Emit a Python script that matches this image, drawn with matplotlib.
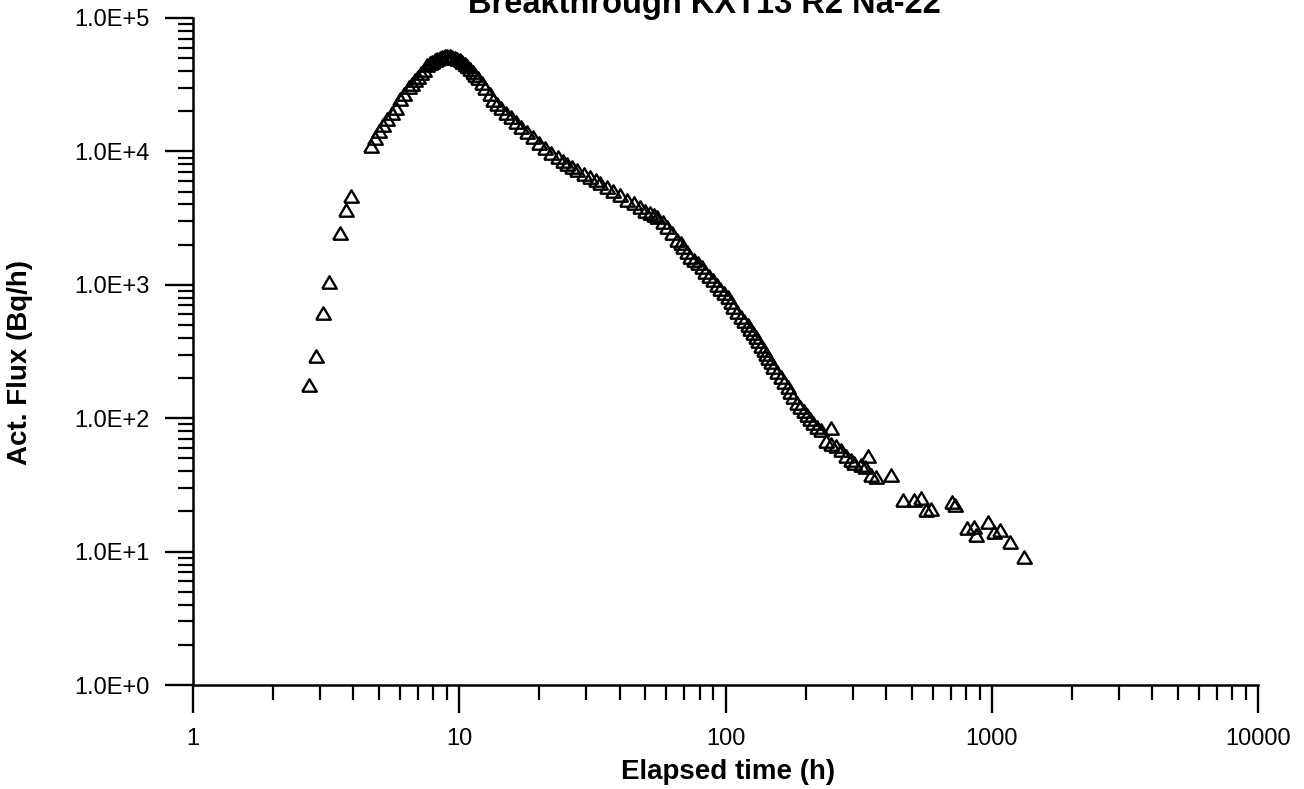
import numpy as np
import matplotlib
matplotlib.use('Agg')
import matplotlib.pyplot as plt
from matplotlib.ticker import LogLocator, FuncFormatter, NullFormatter

# Na-22 breakthrough, values
time_h = [2.73, 2.90, 3.08, 3.25, 3.57, 3.76, 3.93,
          4.67, 4.83, 5.00, 5.18, 5.36, 5.60, 5.80, 6.00, 6.21, 6.49, 6.66,
          6.84, 7.01, 7.20, 7.39, 7.59, 7.78, 7.91, 8.12, 8.26, 8.48, 8.63,
          8.86, 9.01, 9.25, 9.41, 9.66, 9.82, 10.1, 10.26, 10.5, 10.7, 11.0,
          11.3, 11.5, 11.8, 12.2, 12.5, 13.0, 13.4, 13.9, 14.3, 15.0, 15.6,
          16.3, 17.0, 18.0, 19.0, 20.0, 21.0, 22.2, 23.4, 24.5, 25.5, 26.6,
          27.8, 29.4, 31.1, 32.5, 33.9, 35.8, 37.9, 40.3, 42.8, 45.3, 47.9,
          50.0, 52.2, 54.0, 55.5, 58.0, 60.5, 63.2, 66.0, 67.8, 69.5, 71.6,
          73.8, 76.0, 78.5, 81.3, 84.1, 87.0, 90.1, 92.8, 95.7, 98.8, 102,
          104.5, 107, 110.5, 114, 117.5, 121, 124, 127, 130, 133, 136, 139,
          142, 145, 148, 151, 156, 161, 166, 171, 175, 180, 185, 191, 197,
          203, 208, 214, 221, 228, 238, 248, 248, 260, 271, 283, 295, 305,
          322, 335, 342, 351, 366, 417, 463, 509, 541, 565, 590, 708, 726,
          805, 855, 871, 966, 1018, 1072, 1169, 1318]
flux = [177, 293, 615, 1050, 2440, 3640, 4630,
        10970, 12600, 14200, 15800, 17500, 19400, 21100, 24700, 26900, 30400,
        32000, 34300, 36100, 38700, 40800, 44500, 46000, 46800, 48400, 49300,
        50100, 51000, 51900, 51900, 51900, 51000, 50100, 49300, 48400, 46800,
        45200, 43700, 41500, 39400, 37400, 35500, 32500, 29900, 27000, 24300,
        22800, 21100, 19400, 18100, 16500, 15200, 13900, 12800, 11600, 10600,
        9800, 9080, 8500, 8050, 7600, 7260, 6800, 6430, 6100, 5800, 5400,
        5050, 4700, 4320, 4080, 3830, 3600, 3450, 3350, 3220, 2950, 2710,
        2430, 2170, 2050, 1920, 1760, 1610, 1540, 1460, 1350, 1250, 1160,
        1090, 1000, 930, 870, 811, 740, 683, 625, 574, 535, 500, 465, 436,
        405, 379, 350, 325, 302, 283, 262, 242, 222, 204, 186, 171, 157, 144,
        131, 121, 113, 106, 98, 92, 86, 81.6, 68, 64, 84.5, 62, 57.8, 52,
        48.7, 46, 44.6, 43, 52.1, 37.5, 36.3, 37.5, 24.4, 24.4, 25.2, 20.5,
        20.9, 23.5, 22.4, 15.0, 15.3, 13.3, 16.7, 14.0, 14.5, 11.8, 9.1]

plt.rcParams['font.family'] = ['Liberation Sans', 'DejaVu Sans']

fig = plt.figure(figsize=(13.04, 7.89), dpi=100)
ax = fig.add_axes([193/1304, 1 - 685/789, 1065/1304, 667/789])

# open triangle, a bit wider than tall like the original
tri = [(-1, -0.85), (1, -0.85), (0, 0.85), (-1, -0.85)]
ax.plot(time_h, flux, linestyle='none', marker=tri, ms=10.5,
        mfc='none', mec='black', mew=1.7)

ax.set_xscale('log')
ax.set_yscale('log')
ax.set_xlim(1, 10000)
ax.set_ylim(1, 1e5)

for s in ['top', 'right']:
    ax.spines[s].set_visible(False)
for s in ['left', 'bottom']:
    ax.spines[s].set_linewidth(1.8)

for axis in [ax.xaxis, ax.yaxis]:
    axis.set_major_locator(LogLocator(base=10, numticks=12))
    axis.set_minor_locator(LogLocator(base=10, subs=np.arange(2, 10), numticks=40))
    axis.set_minor_formatter(NullFormatter())

ax.xaxis.set_major_formatter(FuncFormatter(lambda v, p: '%d' % round(v)))
ax.yaxis.set_major_formatter(FuncFormatter(lambda v, p: '1.0E+%d' % round(np.log10(v))))

ax.tick_params(which='major', direction='out', length=20, width=1.7, pad=11)
ax.tick_params(which='minor', direction='out', length=11, width=1.6)
ax.tick_params(axis='x', labelsize=17)
ax.tick_params(axis='y', labelsize=17)

ax.set_xlabel('Elapsed time (h)', fontsize=20, fontweight='bold')
ax.xaxis.label.set_va('baseline')
ax.xaxis.set_label_coords(0.502, -(779 - 685) / 667)
ax.set_ylabel('Act. Flux (Bq/h)', fontsize=20, fontweight='bold')
ax.yaxis.set_label_coords(-(193 - 33) / 1065, 0.483)

fig.text(704/1304, 1 - 13/789, 'Breakthrough KXT13 R2 Na-22', ha='center',
         va='baseline', fontsize=23.5, fontweight='bold')

fig.savefig('out.png', dpi=100)
